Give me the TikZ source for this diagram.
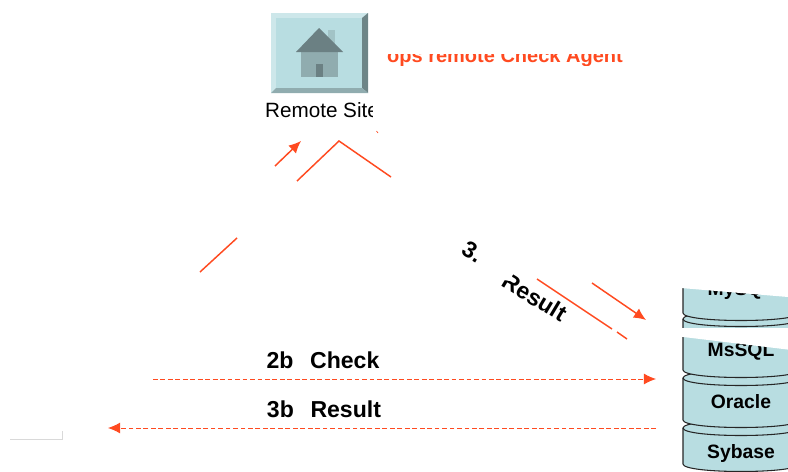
\documentclass[tikz,border=0pt]{standalone}
\usepackage{fontspec}
\setmainfont{Liberation Sans}
\usetikzlibrary{arrows.meta}
\definecolor{tickred}{HTML}{FF4A20}
\definecolor{dbface}{HTML}{B8DDE1}
\tikzset{%
  >={Latex[width=2.9mm,length=3.2mm]},
  % Specifications for style of nodes:
  base/.style = {
    inner sep=0pt,
    anchor=base,
    text centered,
    font=\fontsize{17.3}{19}\selectfont\bfseries
  },
  flow/.style = {base, rotate=-31, anchor=center},
  agent/.style = {base, text=tickred, font=\fontsize{15}{17}\selectfont\bfseries},
  site/.style = {base, font=\fontsize{15.5}{17}\selectfont},
  dbname/.style = {base, font=\fontsize{14.5}{16}\selectfont\bfseries},
  link/.style = {tickred, line width=1.1pt},
  dashlink/.style = {tickred, line width=0.7pt, dash pattern=on 3.6pt off 2pt},
  mask/.style = {fill=white, draw=none},
  disk/.style = {fill=dbface, draw=black!85, line width=0.8pt},
}
\begin{document}
\begin{tikzpicture}[x=0.75pt, y=-0.75pt]
  \clip (0,0) rectangle (788,471);
  % remote site button
  \fill[dbface!70!white] (271,13) rectangle (368,93);
  \fill[dbface] (276,18) rectangle (362,88);
  \fill[black!40!dbface] (368,13) -- (368,93) -- (362,88) -- (362,18) -- cycle;
  \fill[black!22!dbface] (271,93) -- (368,93) -- (362,88) -- (276,88) -- cycle;
  \fill[black!12!dbface] (328,30) rectangle (335,46);
  \fill[black!22!dbface] (301,52) rectangle (338,77);
  \fill[black!42!dbface] (296,52) -- (319,28) -- (343,52) -- cycle;
  \fill[black!42!dbface] (316,64) rectangle (323,77);
  % nodes
  \node (site) [site] at (322,117) {Remote Site};
  \node (agent) [agent] at (505,62) {ops remote Check Agent};
  \node (check) [base] at (323,368) {2b\hspace{0.72em}Check};
  \node (result) [base] at (324,417) {3b\hspace{0.72em}Result};
  \node (three) [flow] at (473,252) {3.};
  \node (resultb) [flow] at (535,297) {Result};
  % database stack, drawn upwards
  \foreach \dbtxt/\dbtop/\dbbot/\dbbase in {Sybase/428/464/458, Oracle/378/420/408, MsSQL/319/370/356, MySQL/265/313/295} {
    \draw[disk] (683,\dbtop) -- (683,\dbbot) .. controls (683,\dbbot+10) and (799,\dbbot+10) .. (799,\dbbot)
      -- (799,\dbtop) .. controls (799,\dbtop-10) and (683,\dbtop-10) .. cycle;
    \draw[disk, fill=none] (683,\dbtop) .. controls (683,\dbtop+10) and (799,\dbtop+10) .. (799,\dbtop);
    \node (\dbtxt) [dbname] at (741,\dbbase) {\dbtxt};
  }
  % cut out parts
  \fill[mask] (675,250) -- (800,250) -- (800,298) -- (675,287.5) -- cycle;
  \fill[mask] (675,328) -- (800,328) -- (800,351) -- (675,336) -- cycle;
  \fill[mask] (373,98) rectangle (390,124);
  \fill[mask] (380,40) rectangle (640,53.5);
  \fill[mask] (380,65.5) rectangle (640,72);
  \fill[mask] (492,262) -- (514,272) -- (510,281) -- (492,278) -- cycle;
  % end points of the lines
  \coordinate (upA) at (275,166);
  \coordinate (upB) at (301,141);
  \coordinate (roofL) at (297,181);
  \coordinate (roofT) at (339,141);
  \coordinate (roofR) at (391,177);
  \coordinate (lowA) at (200,272);
  \coordinate (lowB) at (237,238);
  \coordinate (downA) at (592,283);
  \coordinate (downB) at (646,320);
  \coordinate (backA) at (537,279);
  \coordinate (backB) at (612,329);
  \coordinate (backC) at (617,332);
  \coordinate (backD) at (627,339);
  \coordinate (checkA) at (153,379);
  \coordinate (checkB) at (656,379);
  \coordinate (resultA) at (656,428);
  \coordinate (resultB) at (108,428);
  \coordinate (speckA) at (376.5,131);
  \coordinate (speckB) at (378,133);
  \coordinate (cornerA) at (10,439);
  \coordinate (cornerB) at (62,439);
  \coordinate (cornerC) at (62,431);
  % lines
  \draw[link, ->] (upA) -- (upB);
  \draw[link] (roofL) -- (roofT) -- (roofR);
  \draw[link] (lowA) -- (lowB);
  \draw[link, ->] (downA) -- (downB);
  \draw[link] (backA) -- (backB);
  \draw[link] (backC) -- (backD);
  \draw[link, line width=0.5pt] (speckA) -- (speckB);
  \draw[dashlink, ->] (checkA) -- (checkB);
  \draw[dashlink, ->] (resultA) -- (resultB);
  \draw[black!15, line width=0.5pt] (cornerA) -- (cornerB) -- (cornerC);
\end{tikzpicture}
\end{document}
